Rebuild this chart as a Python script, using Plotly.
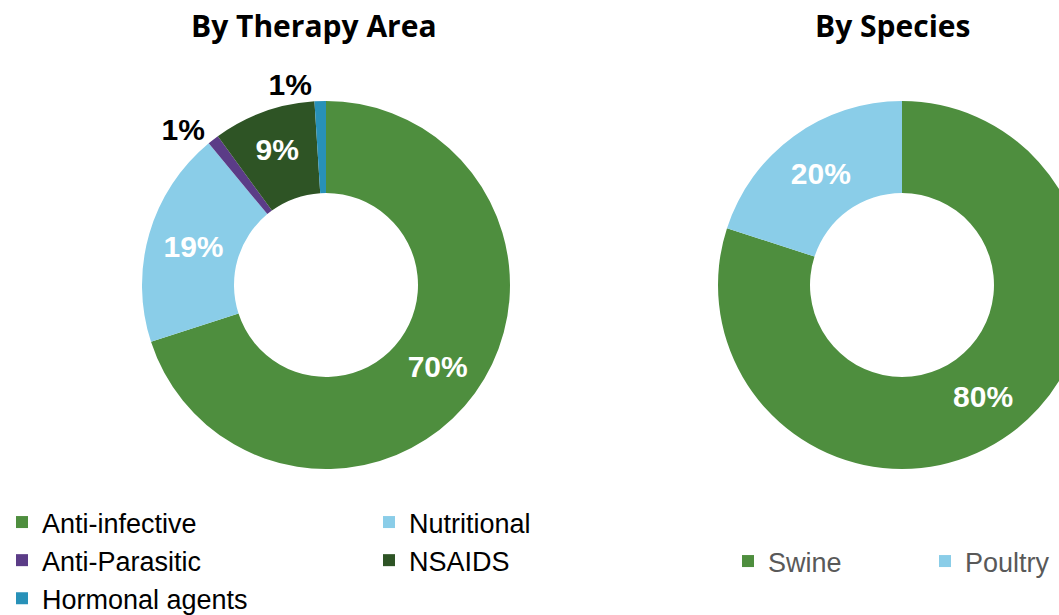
import plotly.graph_objects as go

# ---- data ----
therapy_labels = ["Anti-infective", "Nutritional", "Anti-Parasitic", "NSAIDS", "Hormonal agents"]
therapy_values = [70, 19, 1, 9, 1]
therapy_colors = ["#4E8E3E", "#8ACDE8", "#5B3C87", "#2E5425", "#2891B8"]
therapy_textpos = ["inside", "inside", "outside", "inside", "outside"]

species_labels = ["Swine", "Poultry"]
species_values = [80, 20]
species_colors = ["#4E8E3E", "#8ACDE8"]

titles = ["By Therapy Area", "By Species"]

# ---- layout geometry ----
W, H = 1100, 615
ML, MR = 0, 10
PW = W - ML - MR


def dom(cx, cy, r):
    return dict(x=[(cx - r) / PW, (cx + r) / PW],
                y=[1 - (cy + r) / H, 1 - (cy - r) / H])


label_font = dict(family="Liberation Sans, Arial, sans-serif", size=30)

fig = go.Figure()
fig.add_trace(go.Pie(
    labels=therapy_labels, values=therapy_values, sort=False,
    direction="clockwise", rotation=0, hole=0.5,
    marker=dict(colors=therapy_colors, line=dict(width=0)),
    texttemplate="<b>%{percent:.0%}</b>", textposition=therapy_textpos,
    insidetextorientation="horizontal",
    insidetextfont=dict(color="white", **label_font),
    outsidetextfont=dict(color="black", **label_font),
    domain=dom(326, 285, 184), legend="legend",
    hoverinfo="label+percent",
))
fig.add_trace(go.Pie(
    labels=species_labels, values=species_values, sort=False,
    direction="clockwise", rotation=0, hole=0.5,
    marker=dict(colors=species_colors, line=dict(width=0)),
    texttemplate="<b>%{percent:.0%}</b>", textposition="inside",
    insidetextorientation="horizontal",
    insidetextfont=dict(color="white", **label_font),
    domain=dom(902, 285, 184), legend="legend2",
    hoverinfo="label+percent",
))

title_font = dict(family="Open Sans, sans-serif", size=30, color="black")
fig.add_annotation(text="<b>" + titles[0] + "</b>", x=314 / PW, y=1 - 26 / H,
                   xref="paper", yref="paper", showarrow=False,
                   xanchor="center", yanchor="middle", font=title_font)
fig.add_annotation(text="<b>" + titles[1] + "</b>", x=892 / PW, y=1 - 26 / H,
                   xref="paper", yref="paper", showarrow=False,
                   xanchor="center", yanchor="middle", font=title_font)

fig.update_layout(
    width=W, height=H,
    margin=dict(l=ML, r=MR, t=0, b=0, autoexpand=False),
    paper_bgcolor="white", plot_bgcolor="white",
    legend=dict(orientation="h", x=2 / PW, xanchor="left", y=1 - 498 / H, yanchor="top",
                entrywidth=322, entrywidthmode="pixels",
                font=dict(family="Liberation Sans, Arial, sans-serif", size=27, color="black"),
                bgcolor="rgba(0,0,0,0)"),
    legend2=dict(orientation="h", x=728 / PW, xanchor="left", y=1 - 537 / H, yanchor="top",
                 entrywidth=152, entrywidthmode="pixels",
                 font=dict(family="Liberation Sans, Arial, sans-serif", size=27, color="#595959"),
                 bgcolor="rgba(0,0,0,0)"),
)

fig.write_html("out.html", config={"displayModeBar": False},
               post_script="document.body.style.margin='0';document.body.style.overflow='hidden';")
